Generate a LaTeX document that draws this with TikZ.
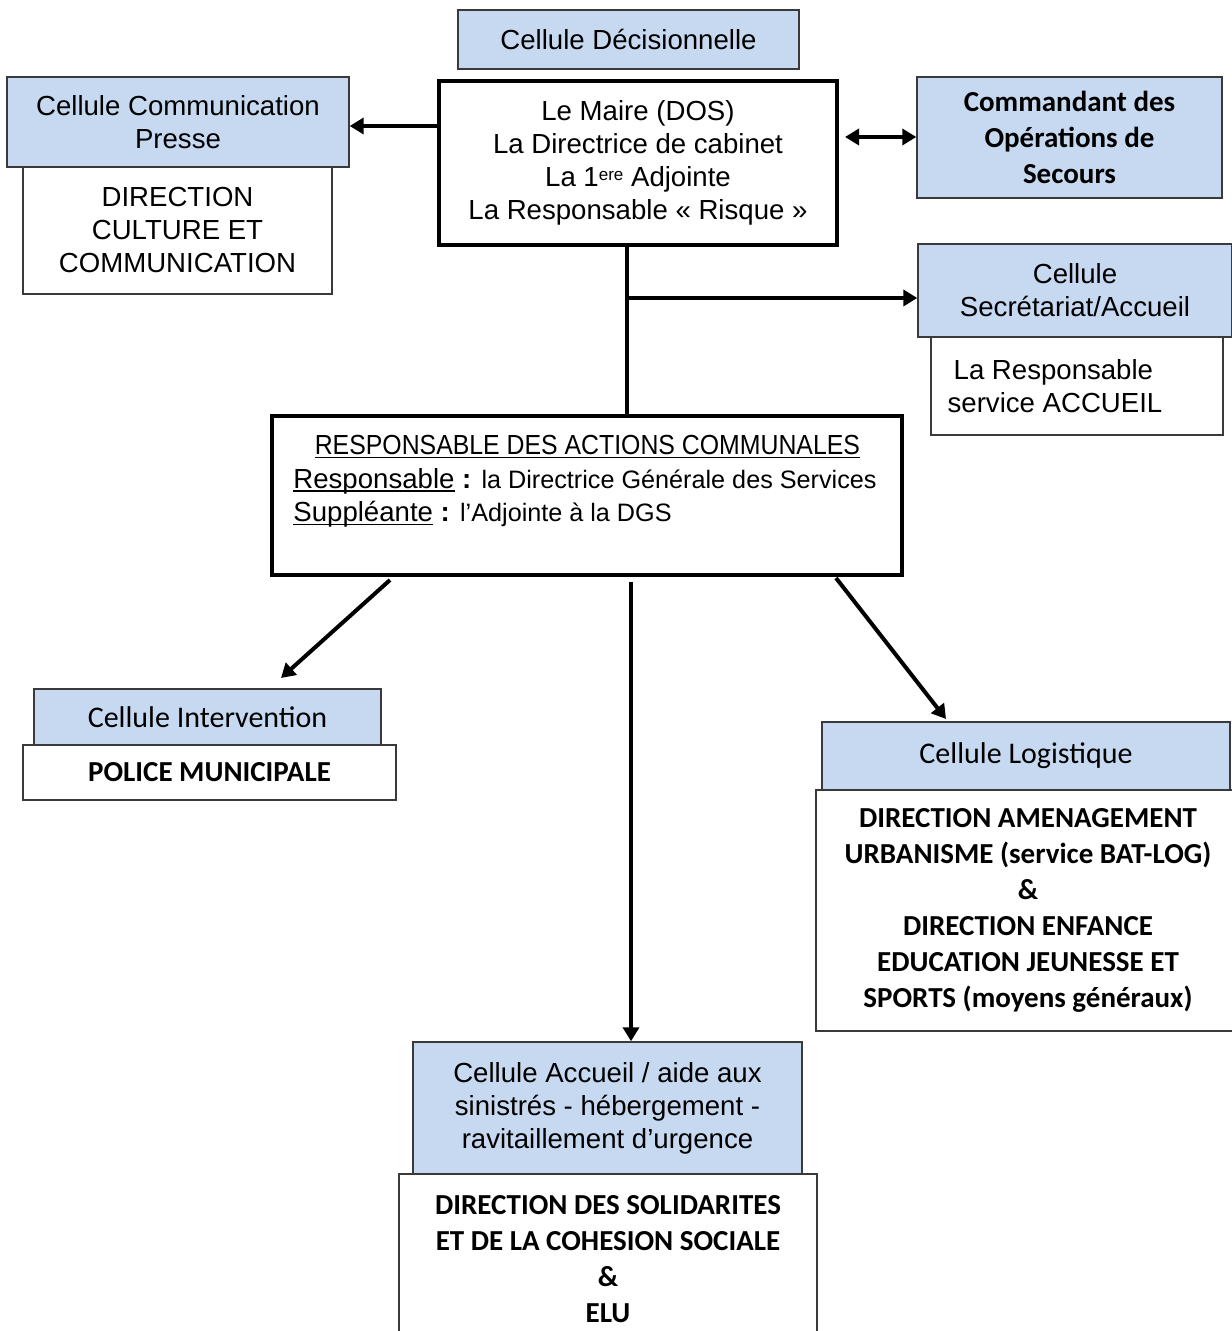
\documentclass[tikz,border=0pt]{standalone}
\usepackage{fontspec}
\setmainfont{Liberation Sans}
\newfontfamily\calfont{Carlito}
\usetikzlibrary{arrows.meta,calc}
\definecolor{cellblue}{HTML}{C6D9F1}
\definecolor{thinline}{HTML}{3A3A3A}
\newcommand\myul[1]{\leavevmode\setbox0\hbox{#1}\rlap{\rule[-1.8pt]{\wd0}{0.6pt}}\box0\relax}
\begin{document}
\begin{tikzpicture}[x=0.5pt,y=-0.5pt,
  bluebox/.style={draw=thinline,line width=0.7pt,fill=cellblue,inner sep=0pt,align=center,
     font=\fontsize{13.8}{16.5}\selectfont},
  whitebox/.style={draw=thinline,line width=0.7pt,fill=white,inner sep=0pt,align=center,
     font=\fontsize{13.8}{16.5}\selectfont},
  thickbox/.style={draw=black,line width=2pt,fill=white,inner sep=0pt,align=center,
     font=\fontsize{13.8}{16.5}\selectfont},
  calbold/.style={font=\calfont\bfseries\fontsize{14.5}{18}\selectfont},
  calreg/.style={font=\calfont\fontsize{15}{18}\selectfont},
  conn/.style={line width=2pt,draw=black},
  arr/.style={conn,-{Triangle[length=7pt,width=8pt]}},
  darr/.style={conn,{Triangle[length=7pt,width=8pt]}-{Triangle[length=7pt,width=8pt]}}
]
\useasboundingbox (0,0) rectangle (1231,1331);
\fill[white] (0,0) rectangle (1231,1331);

% top
\node[bluebox,minimum width=170.5pt,minimum height=29.5pt] (dec) at (628.5,39.5) {Cellule Décisionnelle};
\node[thickbox,minimum width=199pt,minimum height=82pt] (maire) at (638,163)
  {Le Maire (DOS)\\La Directrice de cabinet\\La 1\raisebox{3.3pt}{\fontsize{8.5}{9}\selectfont ere} Adjointe\\La Responsable « Risque »};

% communication presse
\node[whitebox,minimum width=154.5pt,minimum height=63.5pt] (pressw) at (177.5,230.5)
  {DIRECTION\\CULTURE ET\\COMMUNICATION};
\node[bluebox,minimum width=171pt,minimum height=45pt] (press) at (178,122)
  {Cellule Communication\\Presse};

% COS
\node[bluebox,calbold,minimum width=152.5pt,minimum height=60.5pt] (cos) at (1069.5,137.5)
  {Commandant des\\Opérations de\\Secours};

% secretariat
\node[whitebox,minimum width=146pt,minimum height=49pt,align=flush left] (secrw) at (1077,386)
  {\hspace*{3pt}La Responsable\\service ACCUEIL\hspace*{22pt}};
\node[bluebox,minimum width=157pt,minimum height=46.5pt] (secr) at (1075,290.5)
  {Cellule\\Secrétariat/Accueil};

% RAC
\node[thickbox,minimum width=315pt,minimum height=79.5pt] (rac) at (587,495.5) {};
\node[anchor=north west,inner sep=0pt,text width=294pt,align=flush left,
      font=\fontsize{13.8}{16.7}\selectfont] (raclbl) at (293,435)
  {\makebox[\linewidth][c]{\scalebox{0.9}[1]{\myul{RESPONSABLE DES ACTIONS COMMUNALES}}}\\
   \myul{Responsable} \textbf{:} {\fontsize{12.6}{16.7}\selectfont la Directrice Générale des Services}\\
   \myul{Suppléante} \textbf{:} {\fontsize{12.6}{16.7}\selectfont l’Adjointe à la DGS}};

% intervention
\node[whitebox,calbold,minimum width=186.5pt,minimum height=27.5pt] (intw) at (209.5,772.5)
  {POLICE MUNICIPALE};
\node[bluebox,calreg,minimum width=173.5pt,minimum height=28pt] (int) at (207.5,717)
  {Cellule Intervention};

% logistique
\node[whitebox,calbold,minimum width=212pt,minimum height=120.5pt] (logw) at (1028,910.5)
  {DIRECTION AMENAGEMENT\\URBANISME (service BAT-LOG)\\\&\\DIRECTION ENFANCE\\EDUCATION JEUNESSE ET\\SPORTS (moyens généraux)};
\node[bluebox,calreg,minimum width=204pt,minimum height=34pt] (log) at (1026,756)
  {Cellule Logistique};

% accueil
\node[whitebox,calbold,minimum width=209pt,minimum height=85.5pt] (accw) at (608,1259.5)
  {DIRECTION DES SOLIDARITES\\ET DE LA COHESION SOCIALE\\\&\\ELU};
\node[bluebox,minimum width=194.5pt,minimum height=66pt] (acc) at (607.5,1108)
  {Cellule Accueil / aide aux\\sinistrés - hébergement -\\ravitaillement d’urgence};

% connectors
\draw[arr] (maire.west |- 0,126) -- (press.east |- 0,126);
\draw[darr] ($(maire.east |- 0,137)+(6,0)$) -- (cos.west |- 0,137);
\coordinate (br) at (627,298);
\draw[conn] (maire.south -| br) -- (rac.north -| br);
\draw[arr] (br) -- (secr.west |- br);
\coordinate (s1) at (390,580);
\coordinate (s2) at (631,582);
\coordinate (s3) at (836,578);
\draw[arr] (s1) -- (281,678);
\draw[arr] (s2) -- (acc.north -| s2);
\draw[arr] (s3) -- (946,719);
\end{tikzpicture}
\end{document}
